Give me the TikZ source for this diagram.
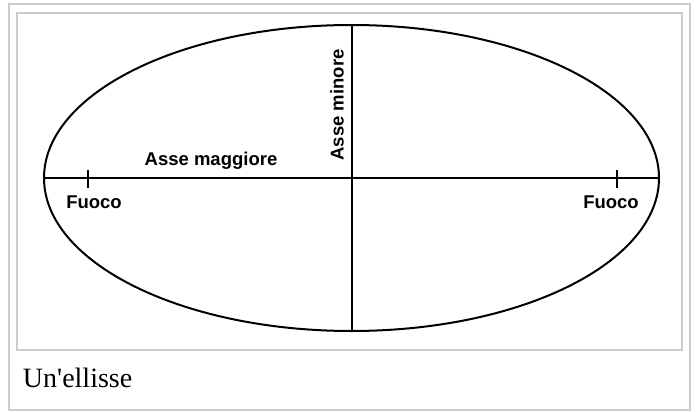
\documentclass[tikz,border=0pt]{standalone}
\usepackage{fontspec}
\setmainfont{Liberation Serif}
\newfontfamily\labelfont{Liberation Sans}
\definecolor{framegray}{RGB}{204,204,204}

\begin{document}
\begin{tikzpicture}[x=1pt, y=-1pt, line width=2pt]
			\useasboundingbox (0,0) rectangle (696,412);
			\tikzset{lab/.style={font=\labelfont\bfseries\fontsize{18.5}{18.5}\selectfont, inner sep=0pt}}
			% frames
			\draw [framegray] (9,4) rectangle (690,410);
			\draw [framegray] (17,13) rectangle (682,350);
			
			% ellipse and axes
			\coordinate (c) at (351.5,178);
			\draw (c) ellipse [x radius=307.5, y radius=153];
			\coordinate (west) at (44,178);
			\coordinate (east) at (659,178);
			\coordinate (north) at (352,25);
			\coordinate (south) at (352,331);
			\draw (west) -- (east);
			\draw (north) -- (south);
			
			% foci
			\coordinate (f1) at (88,178);
			\coordinate (f2) at (617,178);
			\draw (f1) ++(0,-8) -- ++(0,18);
			\draw (f2) ++(0,-8) -- ++(0,18);
			
			\node [lab] (fuoco1) at (94,202) {Fuoco};
			\node [lab] (fuoco2) at (611,202) {Fuoco};
			\node [lab] (maggiore) at (211,161) {Asse maggiore};
			\node [lab, rotate=90] (minore) at (337,105) {Asse minore};
			
			\node [anchor=base west, inner sep=0pt, font=\fontsize{28}{28}\selectfont] (caption) at (22,387) {Un\textquotesingle ellisse};
		\end{tikzpicture}
\end{document}
